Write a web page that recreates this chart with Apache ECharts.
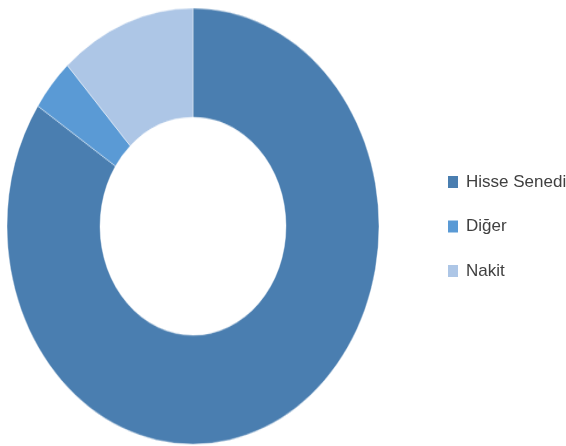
<!DOCTYPE html>
<html>
<head>
<meta charset="utf-8">
<script src="https://cdn.jsdelivr.net/npm/echarts@6/dist/echarts.min.js"></script>
<style>
  html, body { margin: 0; padding: 0; background: #fff; }
  .wrap { position: relative; width: 566px; height: 446px; overflow: hidden; }
  /* the donut in the reference is an ellipse, so the pie canvas is stretched vertically */
  #pie { position: absolute; left: 0; top: 0; width: 400px; height: 386px;
         transform: scaleY(1.172); transform-origin: 0 0; }
  #legend { position: absolute; left: 0; top: 0; width: 566px; height: 446px; }
</style>
</head>
<body>
<div class="wrap">
  <div id="pie"></div>
  <div id="legend"></div>
</div>
<script>
const categories = ['Hisse Senedi', 'Diğer', 'Nakit'];
const values = [84.3, 3.9, 11.8];
const colors = ['#4a7eb0', '#5a9ad5', '#adc6e6'];

const pieData = categories.map((name, i) => ({ name: name, value: values[i] }));

const pieChart = echarts.init(document.getElementById('pie'));
pieChart.setOption({
  animation: false,
  color: colors,
  series: [
    {
      type: 'pie',
      center: [193, 193],
      radius: [93, 186],
      startAngle: 90,
      clockwise: true,
      silent: true,
      label: { show: false },
      labelLine: { show: false },
      itemStyle: { borderColor: '#ffffff', borderWidth: 0.4 },
      data: pieData
    }
  ]
});

// legend drawn unstretched in its own instance
const legendChart = echarts.init(document.getElementById('legend'));
legendChart.setOption({
  animation: false,
  color: colors,
  legend: {
    orient: 'vertical',
    left: 448,
    top: 173,
    padding: 0,
    itemWidth: 10,
    itemHeight: 12,
    itemGap: 26.5,
    icon: 'rect',
    selectedMode: false,
    itemStyle: { opacity: 1, borderWidth: 0 },
    textStyle: {
      fontFamily: 'Liberation Sans',
      fontSize: 17,
      lineHeight: 18,
      color: '#404040',
      padding: [0, 0, 0, 3]
    },
    data: categories
  },
  series: [
    {
      type: 'pie',
      radius: [0, 0],
      silent: true,
      label: { show: false },
      labelLine: { show: false },
      data: pieData
    }
  ]
});
</script>
</body>
</html>
